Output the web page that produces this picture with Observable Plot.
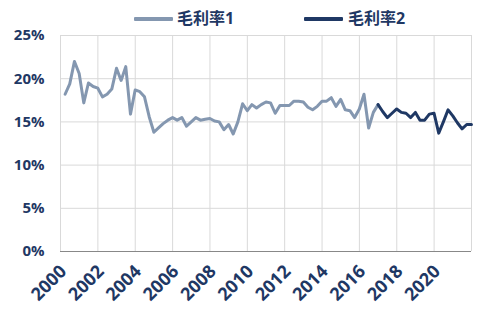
<!DOCTYPE html>
<html><head><meta charset="utf-8">
<script src="https://cdn.jsdelivr.net/npm/d3@7"></script>
<script src="https://cdn.jsdelivr.net/npm/@observablehq/plot@0.6"></script>
<style>
body{margin:0;background:#fff;font-family:"Open Sans","Noto Sans CJK SC",sans-serif;}
#legend{position:relative;height:18px;width:494px;}
.sw{position:absolute;top:17px;width:39px;height:4px;border-radius:1px;}
.lt{position:absolute;top:8px;font-size:16px;font-weight:bold;color:#1f3864;line-height:20px;}
</style></head>
<body>
<div id="legend">
  <div class="sw" style="left:134px;background:#8497b0"></div><div class="lt" style="left:177px">毛利率1</div>
  <div class="sw" style="left:304px;background:#1f3864"></div><div class="lt" style="left:348px">毛利率2</div>
</div>
<div id="chart"></div>
<script>
const seriesNames = ["毛利率1", "毛利率2"];
const startYear = 2000; // first quarter: 2000Q1
const margin1 = [18.2,19.4,22.0,20.6,17.2,19.5,19.1,18.9,17.9,18.2,18.8,21.2,19.8,21.4,15.9,18.7,
  18.5,17.9,15.6,13.8,14.3,14.8,15.2,15.5,15.2,15.5,14.5,15.0,15.5,15.2,15.3,15.4,
  15.1,15.0,14.1,14.7,13.6,15.0,17.1,16.3,17.0,16.6,17.0,17.3,17.2,16.0,16.9,16.9,
  16.9,17.4,17.4,17.3,16.7,16.4,16.8,17.4,17.4,17.8,16.8,17.6,16.4,16.3,15.5,16.5,
  18.2,14.3,16.1,17.0];
// 毛利率2 continues from the last quarter of 毛利率1 (2016Q4) through 2021Q4
const margin2Start = 67; // index of the shared quarter
const margin2 = [17.0,16.2,15.5,16.0,16.5,16.1,16.0,15.5,16.1,15.2,15.2,15.9,16.0,13.7,15.0,16.4,
  15.7,14.9,14.2,14.7,14.7];
const yTicks = [0, 5, 10, 15, 20, 25];
const xTickYears = [2000,2002,2004,2006,2008,2010,2012,2014,2016,2018,2020];
const gridYears = [2000,2002,2004,2006,2008,2010,2012,2014,2016,2018,2020,2022];

const qEnd = i => new Date(Date.UTC(startYear + Math.floor(i/4), (i%4)*3 + 3, 0));
const rows = [];
margin1.forEach((v,i) => rows.push({series: seriesNames[0], date: qEnd(i), value: v}));
margin2.forEach((v,i) => rows.push({series: seriesNames[1], date: qEnd(margin2Start + i), value: v}));
const yearDate = y => new Date(Date.UTC(y, 0, 1));

const plot = Plot.plot({
  width: 494, height: 301,
  marginTop: 17, marginBottom: 68, marginLeft: 60, marginRight: 23,
  style: {fontFamily: '"Open Sans","Noto Sans CJK SC",sans-serif', fontSize: "15px", fontWeight: "bold", color: "#1f3864", background: "#fff", overflow: "visible"},
  x: {type: "utc", domain: [yearDate(2000), yearDate(2022)]},
  y: {domain: [0, 25]},
  color: {domain: seriesNames, range: ["#8497b0", "#1f3864"]},
  marks: [
    Plot.gridX(gridYears.map(yearDate), {stroke: "#d9d9d9", strokeOpacity: 1, strokeWidth: 1}),
    Plot.gridY(yTicks.filter(d => d > 0), {stroke: "#d9d9d9", strokeOpacity: 1, strokeWidth: 1}),
    Plot.ruleY([0], {stroke: "#888", strokeWidth: 1.2}),
    Plot.axisY(yTicks, {tickSize: 0, tickPadding: 16, tickFormat: d => d + "%", fill: "#1f3864", label: null}),
    Plot.axisX(xTickYears.map(yearDate), {tickSize: 0, tickPadding: 17, dx: 3, tickRotate: -45, fontSize: 18, tickFormat: d => String(d.getUTCFullYear()), fill: "#1f3864", label: null}),
    Plot.line(rows, {x: "date", y: "value", z: "series", stroke: "series", strokeWidth: 3, strokeLinejoin: "round"})
  ]
});
document.getElementById("chart").appendChild(plot);
</script>
</body></html>
